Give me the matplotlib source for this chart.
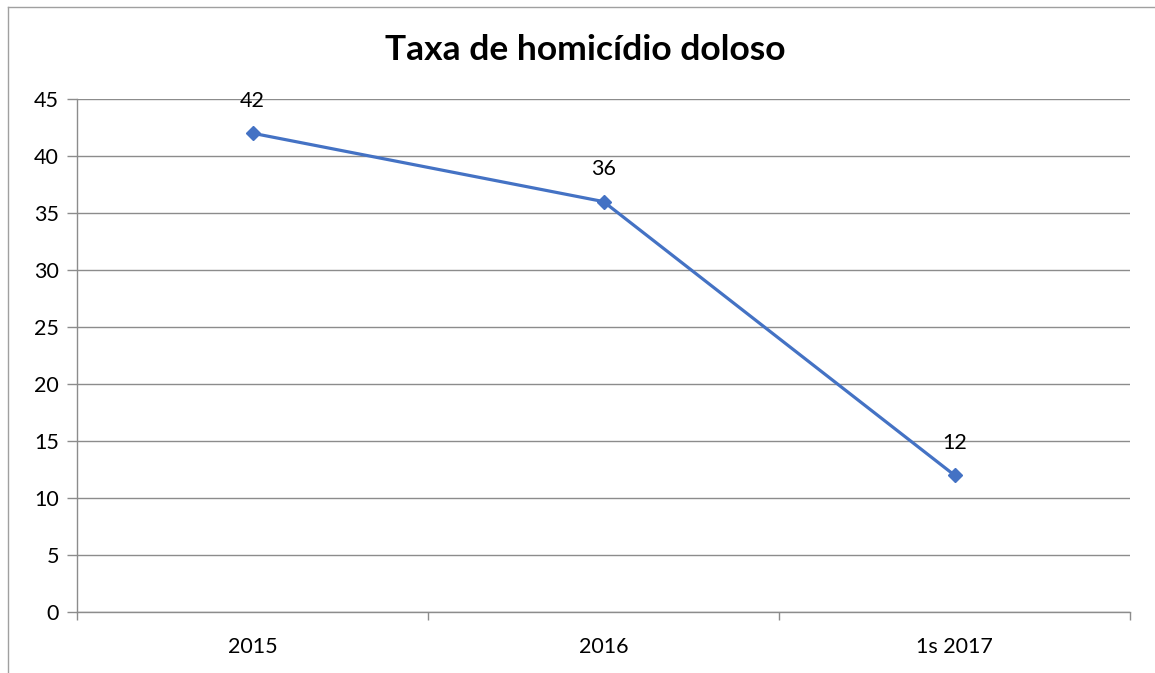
import matplotlib
matplotlib.use('Agg')
import matplotlib.pyplot as plt
from matplotlib.lines import Line2D

# chart data
categories = ["2015", "2016", "1s 2017"]
values = [42, 36, 12]
y_ticks = [0, 5, 10, 15, 20, 25, 30, 35, 40, 45]

plt.rcParams['font.family'] = ['Lato', 'DejaVu Sans']

fig = plt.figure(figsize=(11.55, 6.73), dpi=100)
ax = fig.add_axes([77 / 1155, 61 / 673, (1130 - 77) / 1155, (612 - 99) / 673])

x = list(range(len(categories)))
ax.plot(x, values, color='#4472C4', linewidth=2.3, marker='D', markersize=7,
        zorder=3, clip_on=False)
for xi, v in zip(x, values):
    ax.annotate(str(v), (xi, v), xytext=(0, 16), textcoords='offset points',
                ha='center', va='bottom', fontsize=15.5, color='black')

ax.set_xlim(-0.5, len(categories) - 0.5)
ax.set_ylim(0, 45)
ax.set_yticks(y_ticks)
ax.set_xticks(x)
ax.set_xticklabels(categories)
ax.set_xticks([i - 0.5 for i in range(len(categories) + 1)], minor=True)
ax.tick_params(axis='x', which='major', length=0, pad=18, labelsize=15.5)
ax.tick_params(axis='x', which='minor', length=6, color='#8C8C8C', width=1)
ax.tick_params(axis='y', length=7, color='#8C8C8C', width=1, pad=6, labelsize=15.5)

ax.grid(axis='y', color='#8C8C8C', linewidth=1)
ax.set_axisbelow(True)
for side in ['top', 'right']:
    ax.spines[side].set_visible(False)
for side in ['left', 'bottom']:
    ax.spines[side].set_color('#8C8C8C')
    ax.spines[side].set_linewidth(1)

fig.text(585 / 1155, 1 - 50 / 673, "Taxa de homicídio doloso", ha='center', va='center',
         fontsize=25.5, fontweight='bold')

# outer chart border (top and left visible)
bx = 8 / 1155
by = 1 - 7 / 673
fig.add_artist(Line2D([bx, 1], [by, by], color='#A0A0A0', linewidth=1, transform=fig.transFigure))
fig.add_artist(Line2D([bx, bx], [0, by], color='#A0A0A0', linewidth=1, transform=fig.transFigure))

plt.savefig('out.png', dpi=100)
